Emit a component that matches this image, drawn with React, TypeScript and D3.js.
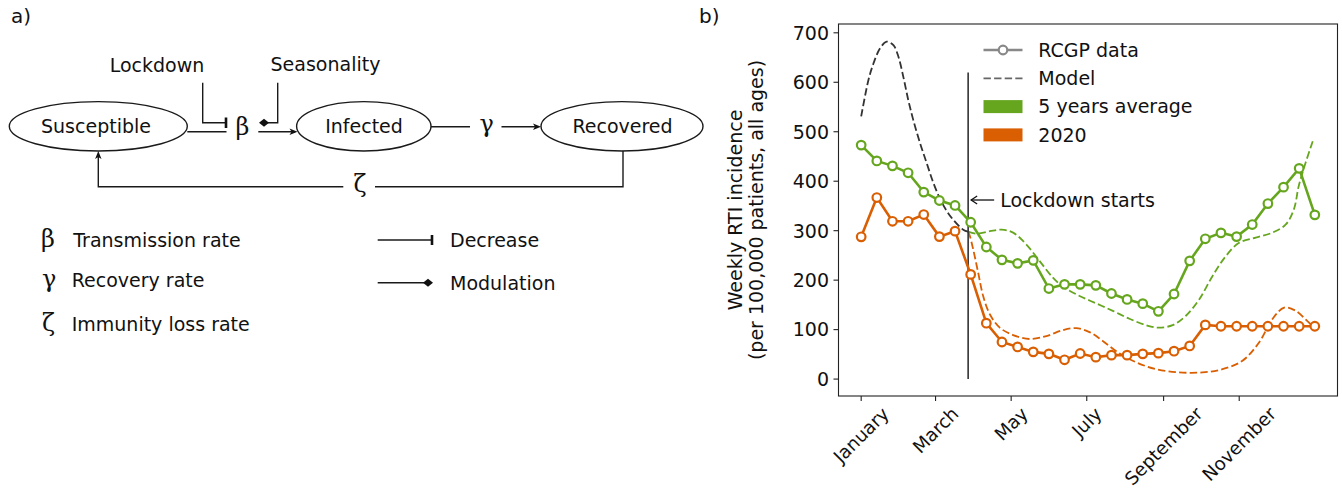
import React from 'react';
import * as d3 from 'd3';

const W = 1342;
const H = 491;
const FONT = "'DejaVu Sans', sans-serif";
const GREEK = "'DejaVu Serif', serif";

// ---------- data ----------
const monthLabels = ['January', 'March', 'May', 'July', 'September', 'November'];
const monthDays = [0, 60, 121, 182, 244, 305];
const yTicks = [0, 100, 200, 300, 400, 500, 600, 700];

// RCGP data, 30 evenly spaced observations across the year
const avg5y = [473, 441, 431, 417, 378, 361, 351, 317, 267, 241, 234, 240, 183, 191.5, 191.5, 189.5, 173, 161, 152.5, 137, 172, 239, 283.6, 295.6, 288, 312.4, 354.8, 388, 426, 332];
const y2020 = [287.6, 367, 319, 319, 332.6, 288, 299, 211.6, 113, 75, 65, 55, 51, 39, 51.7, 44.3, 48.4, 48.4, 51, 52.4, 56.4, 67, 109.5, 106.8, 106.8, 106.8, 106.8, 106.8, 106.8, 106.8];

// Model curves [day of year, incidence]
const modelPre: [number, number][] = [
  [0, 531], [5.9, 605], [9.9, 638], [15.3, 669], [20.6, 682], [26, 675], [30, 652], [34, 611], [38, 564], [42, 524],
  [47.5, 477], [52.8, 437], [58.2, 397], [63.5, 365], [69, 340], [74.3, 322], [82.3, 302], [86.3, 298],
];
const modelAvg: [number, number][] = [
  [86.3, 298], [93, 294], [103.8, 299], [113.2, 302], [122.6, 296], [133.3, 272], [144, 238.5], [154.7, 205],
  [162.7, 187], [176.2, 168], [189.6, 153], [203, 138], [216.4, 122], [229.8, 109], [239.2, 104], [251.3, 109],
  [262, 128], [272.7, 161], [283.4, 208], [294.2, 248.5], [304.9, 275.5], [318.3, 286], [331.7, 296], [342.4, 312],
  [349.1, 343], [353, 390], [358.5, 437], [365.2, 487],
];
const model2020: [number, number][] = [
  [86.3, 298], [87.7, 289], [90.4, 262], [94.4, 215], [98.4, 168], [103.8, 131], [111.8, 104], [122.6, 89],
  [135.9, 81], [149.4, 87], [162.7, 99], [173.5, 103], [184.2, 95], [194.9, 77], [208.3, 52], [221.8, 34],
  [237.9, 20], [256.6, 13.5], [275.4, 13.5], [291.5, 20], [307.6, 37], [321, 74], [331.7, 121], [341.3, 144.5],
  [350.6, 138], [359.8, 117.5], [365.2, 104],
];
const lockdownDay = 86.3;
const lockdownTop = 620;
const lockdownLabelValue = 362;

const legendItems = [
  { label: 'RCGP data', kind: 'data' },
  { label: 'Model', kind: 'model' },
  { label: '5 years average', kind: 'patch', color: '#66a61e' },
  { label: '2020', kind: 'patch', color: '#d95f02' },
];

const GREEN = '#66a61e';
const ORANGE = '#d95f02';

function measure(text: string, size: number, family = 'DejaVu Sans') {
  const c = document.createElement('canvas').getContext('2d');
  if (!c) return text.length * size * 0.6;
  c.font = `${size}px ${family}`;
  return c.measureText(text).width;
}

function Arrow({ x, y, dir }: { x: number; y: number; dir: 'right' | 'up' }) {
  const L = 8, Wd = 3.2;
  const p = dir === 'right'
    ? `M${x},${y} L${x - L},${y - Wd} L${x - L + 2},${y} L${x - L},${y + Wd} Z`
    : `M${x},${y} L${x - Wd},${y + L} L${x},${y + L - 2} L${x + Wd},${y + L} Z`;
  return <path d={p} fill="#111" stroke="none" />;
}

function Diamond({ x, y, s = 5 }: { x: number; y: number; s?: number }) {
  return <path d={`M${x - s},${y} L${x},${y - s * 0.8} L${x + s},${y} L${x},${y + s * 0.8} Z`} fill="#111" />;
}

function PanelA() {
  const st = { stroke: '#1a1a1a', strokeWidth: 1.4, fill: 'none' };
  const fs = 19;
  return (
    <g fontFamily={FONT} fill="#111">
      <text x={11} y={23} fontSize={20}>a)</text>
      {/* nodes */}
      <ellipse cx={98.3} cy={126.3} rx={89} ry={24.7} {...st} />
      <ellipse cx={363.8} cy={126.3} rx={67.2} ry={24.7} {...st} />
      <ellipse cx={622} cy={126.3} rx={81} ry={24.7} {...st} />
      <text x={96} y={132.5} fontSize={fs} textAnchor="middle">Susceptible</text>
      <text x={364} y={133} fontSize={fs} textAnchor="middle">Infected</text>
      <text x={622.5} y={133} fontSize={fs} textAnchor="middle">Recovered</text>
      <text x={157} y={71.5} fontSize={fs} textAnchor="middle">Lockdown</text>
      <text x={325.5} y={71.3} fontSize={fs} textAnchor="middle">Seasonality</text>

      {/* S -> beta */}
      <path d="M187.3,131.7 H226.5" {...st} />
      {/* Lockdown inhibition */}
      <path d="M202.7,82.7 V122.7 H225.5" {...st} />
      <path d="M226,117.5 V128" stroke="#111" strokeWidth={2.6} />
      {/* Seasonality modulation */}
      <path d="M277.7,82.7 V122.7 H267" {...st} />
      <Diamond x={264} y={122.7} />
      <text x={242.5} y={135} fontSize={24} fontFamily={GREEK} textAnchor="middle">β</text>
      {/* beta -> Infected */}
      <path d="M258.3,131.7 H295" {...st} />
      <Arrow x={297.5} y={131.7} dir="right" />
      {/* Infected -> gamma -> Recovered */}
      <path d="M431,126.7 H470" {...st} />
      <text x={486.7} y={131.5} fontSize={24} fontFamily={GREEK} textAnchor="middle">γ</text>
      <path d="M501.5,126.7 H538" {...st} />
      <Arrow x={541} y={126.7} dir="right" />
      {/* Recovered -> zeta -> Susceptible */}
      <path d="M623,151 V186.7 H375" {...st} />
      <text x={360} y={192} fontSize={24} fontFamily={GREEK} textAnchor="middle">ζ</text>
      <path d="M343.3,186.7 H98.3 V154" {...st} />
      <Arrow x={98.3} y={151} dir="up" />

      {/* key */}
      <text x={41} y={246.7} fontSize={24} fontFamily={GREEK}>β</text>
      <text x={73.3} y={247.2} fontSize={fs}>Transmission rate</text>
      <text x={42} y={286.7} fontSize={24} fontFamily={GREEK}>γ</text>
      <text x={71.7} y={287} fontSize={fs}>Recovery rate</text>
      <text x={42} y={331} fontSize={24} fontFamily={GREEK}>ζ</text>
      <text x={71.7} y={330.6} fontSize={fs}>Immunity loss rate</text>

      <path d="M377.7,240 H431" {...st} />
      <path d="M432,235 V245" stroke="#111" strokeWidth={2.6} />
      <text x={450} y={247} fontSize={fs}>Decrease</text>
      <path d="M377.7,282.7 H426" {...st} />
      <Diamond x={428} y={282.7} />
      <text x={450} y={289.5} fontSize={fs}>Modulation</text>
    </g>
  );
}

function PanelB() {
  const left = 838.5, right = 1337.5, top = 24, bottom = 396;
  const x = d3.scaleLinear().domain([-18.3, 384.3]).range([left, right]);
  const y = d3.scaleLinear().domain([-34.2, 717.8]).range([bottom, top]);
  const days = avg5y.map((_, i) => (i * 366) / 29);
  const line = d3.line<[number, number]>().x(d => x(d[0])).y(d => y(d[1]));
  const smooth = d3.line<[number, number]>().x(d => x(d[0])).y(d => y(d[1])).curve(d3.curveCatmullRom.alpha(0.5));
  const fs = 19;
  const xfs = 18.3;
  const dash = '7.4,3.2';
  const series = [
    { vals: avg5y, color: GREEN, model: modelAvg },
    { vals: y2020, color: ORANGE, model: model2020 },
  ];
  const tickLen = 5;
  return (
    <g fontFamily={FONT}>
      <text x={699} y={23} fontSize={20} fill="#111">b)</text>

      {/* model curves */}
      <path d={smooth(modelPre) || ''} fill="none" stroke="#333" strokeWidth={1.8} strokeDasharray={dash} />
      {series.map((s, i) => (
        <path key={'m' + i} d={smooth(s.model) || ''} fill="none" stroke={s.color} strokeWidth={1.8} strokeDasharray={dash} />
      ))}

      {/* lockdown line */}
      <line x1={x(lockdownDay)} x2={x(lockdownDay)} y1={y(0)} y2={y(lockdownTop)} stroke="#333" strokeWidth={1.6} />

      {/* data */}
      {series.map((s, i) => {
        const pts: [number, number][] = s.vals.map((v, j) => [days[j], v]);
        return (
          <g key={'d' + i}>
            <path d={line(pts) || ''} fill="none" stroke={s.color} strokeWidth={2.6} />
            {pts.map((p, j) => (
              <circle key={j} cx={x(p[0])} cy={y(p[1])} r={4.3} fill="#fff" stroke={s.color} strokeWidth={2.2} />
            ))}
          </g>
        );
      })}

      {/* annotation */}
      <g stroke="#111" strokeWidth={1.3} fill="none">
        <path d={`M${x(lockdownDay) + 26},${y(lockdownLabelValue)} H${x(lockdownDay) + 3}`} />
        <path d={`M${x(lockdownDay) + 9},${y(lockdownLabelValue) - 4} L${x(lockdownDay) + 3},${y(lockdownLabelValue)} L${x(lockdownDay) + 9},${y(lockdownLabelValue) + 4}`} />
      </g>
      <text x={x(lockdownDay) + 32} y={y(lockdownLabelValue)} dy="0.35em" fontSize={fs} fill="#111">Lockdown starts</text>

      {/* frame */}
      <rect x={left} y={top} width={right - left} height={bottom - top} fill="none" stroke="#222" strokeWidth={1.1} />

      {/* y axis */}
      {yTicks.map(t => (
        <g key={t}>
          <line x1={left - tickLen} x2={left} y1={y(t)} y2={y(t)} stroke="#222" strokeWidth={1.1} />
          <text x={left - tickLen - 4.5} y={y(t)} dy="0.36em" fontSize={fs} textAnchor="end" fill="#111">{t}</text>
        </g>
      ))}
      <text transform={`translate(735,${(top + bottom) / 2}) rotate(-90)`} fontSize={fs} textAnchor="middle" fill="#111" dy="0.35em">
        Weekly RTI incidence
      </text>
      <text transform={`translate(756,${(top + bottom) / 2}) rotate(-90)`} fontSize={fs} textAnchor="middle" fill="#111" dy="0.35em">
        (per 100,000 patients, all ages)
      </text>

      {/* x axis */}
      {monthDays.map((d, i) => {
        const w = measure(monthLabels[i], xfs);
        const side = (w + xfs * 1.0) / Math.SQRT2;
        return (
          <g key={d}>
            <line x1={x(d)} x2={x(d)} y1={bottom} y2={bottom + tickLen} stroke="#222" strokeWidth={1.1} />
            <text
              transform={`translate(${x(d)},${bottom + tickLen + 3 + side / 2}) rotate(-45)`}
              fontSize={xfs}
              textAnchor="middle"
              dy="0.35em"
              fill="#111"
            >
              {monthLabels[i]}
            </text>
          </g>
        );
      })}

      {/* legend */}
      {legendItems.map((it, i) => {
        const ly = 50 + i * 28.3;
        const hx0 = 983.5, hx1 = 1022.5;
        return (
          <g key={it.label}>
            {it.kind === 'data' && (
              <g>
                <line x1={hx0} x2={hx1} y1={ly} y2={ly} stroke="#888" strokeWidth={2.6} />
                <circle cx={(hx0 + hx1) / 2} cy={ly} r={4.3} fill="#fff" stroke="#888" strokeWidth={2.2} />
              </g>
            )}
            {it.kind === 'model' && (
              <line x1={hx0} x2={hx1} y1={ly} y2={ly} stroke="#666" strokeWidth={1.8} strokeDasharray={dash} />
            )}
            {it.kind === 'patch' && (
              <rect x={hx0} y={ly - 6.5} width={hx1 - hx0} height={13} fill={it.color} />
            )}
            <text x={1038.3} y={ly} dy="0.36em" fontSize={fs} fill="#111">{it.label}</text>
          </g>
        );
      })}
    </g>
  );
}

export default function App() {
  return (
    <svg width={W} height={H} viewBox={`0 0 ${W} ${H}`} style={{ position: 'absolute', left: 0, top: 0, background: '#fff' }}>
      <rect width={W} height={H} fill="#fff" />
      <PanelA />
      <PanelB />
    </svg>
  );
}
